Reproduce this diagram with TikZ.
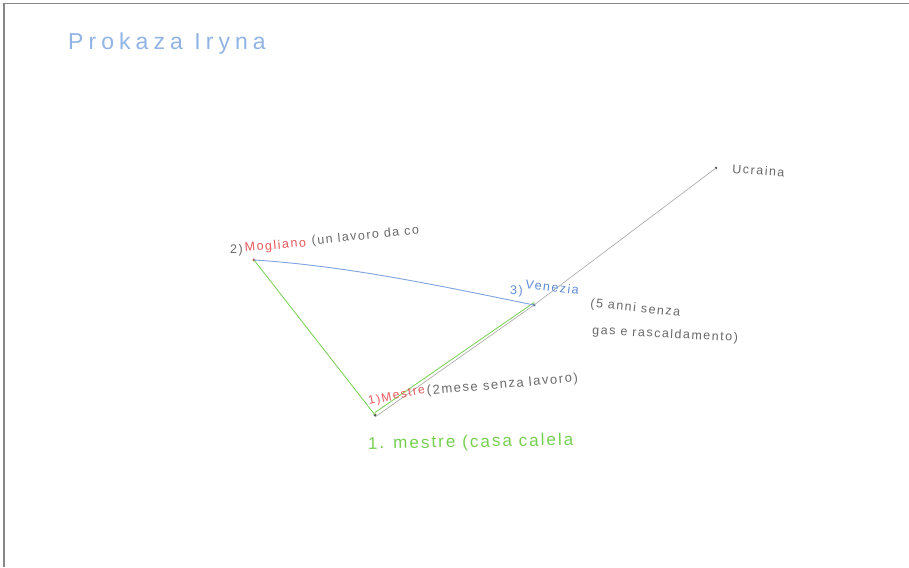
\documentclass[tikz,border=0pt]{standalone}
\usepackage{fontspec}
\setmainfont{Liberation Sans}
\newfontfamily\hand[LetterSpace=12]{Liberation Sans}
\newfontfamily\handtitle[LetterSpace=22]{Liberation Sans}
\definecolor{pencilgray}{RGB}{105,105,105}
\definecolor{linegray}{RGB}{165,165,165}
\definecolor{pencilred}{RGB}{232,88,92}
\definecolor{pencilblue}{RGB}{95,140,215}
\definecolor{titleblue}{RGB}{145,180,228}
\definecolor{pencilgreen}{RGB}{118,208,80}
\definecolor{framegray}{RGB}{135,135,135}
\tikzset{
  spot/.style={circle, inner sep=0pt, minimum size=3.2pt},
  note/.style={anchor=base west, inner sep=0pt, font=\hand\fontsize{12.5}{14}\selectfont, text=pencilgray},
  route/.style={line width=0.8pt, line cap=round},
}
\begin{document}
\begin{tikzpicture}[x=1pt,y=-1pt]
\useasboundingbox[fill=white] (0,0) rectangle (909,567);
% scanned page edge
\draw[framegray, line width=1.6pt] (4,567) -- (4,3.5) -- (909,3.5);

% title
\node[anchor=base west, inner sep=0pt, text=titleblue, font=\handtitle\fontsize{23}{26}\selectfont] (title) at (68,50) {Prokaza Iryna};

% places
\node[spot, fill=pencilred!85!black] (mog) at (254,260) {};
\node[spot, fill=pencilblue!70!black] (ven) at (534,305) {};
\node[spot, fill=black!70] (mes) at (375,415) {};
\node[spot, fill=black!70, minimum size=2.6pt] (ukr) at (716,168) {};

% routes
\draw[route, linegray, line width=0.6pt] ([yshift=-2pt]mes.center) -- (ven.center) -- (ukr.center);
\draw[route, pencilgreen] (mog.center) -- (mes.center);
\draw[route, pencilgreen] ([yshift=2.5pt]mes.center) -- ([yshift=2.5pt]ven.center);
\draw[route, pencilblue!80, line width=0.9pt] (mog.center) .. controls (350,266) and (450,288) .. (ven.center);

% labels
\node[note] (l2) at (230,253) {2)};
\node[note, text=pencilred, rotate=5] (mogl) at (245,252) {Mogliano};
\node[note, rotate=6] (mogn) at (312,245) {(un lavoro da co};

\node[note, text=pencilblue] (l3) at (510,294) {3)};
\node[note, text=pencilblue, rotate=-7] (venl) at (525,288) {Venezia};
\node[note, rotate=-6] (venn) at (590,307) {(5 anni senza};
\node[note, rotate=-3] (venn2) at (592,334) {gas e rascaldamento)};

\node[note, text=pencilred, rotate=12, font=\hand\fontsize{12}{14}\selectfont] (mesl) at (369,405) {1)Mestre};
\node[note, rotate=5, font=\hand\fontsize{13}{15}\selectfont] (mesn) at (427,395) {(2mese senza lavoro)};
\node[note, text=pencilgreen, font=\hand\fontsize{17}{19}\selectfont, rotate=1] (mesg) at (368,449) {1. mestre (casa calela};

\node[note, rotate=-4] (ukrl) at (732,173) {Ucraina};
\end{tikzpicture}
\end{document}
